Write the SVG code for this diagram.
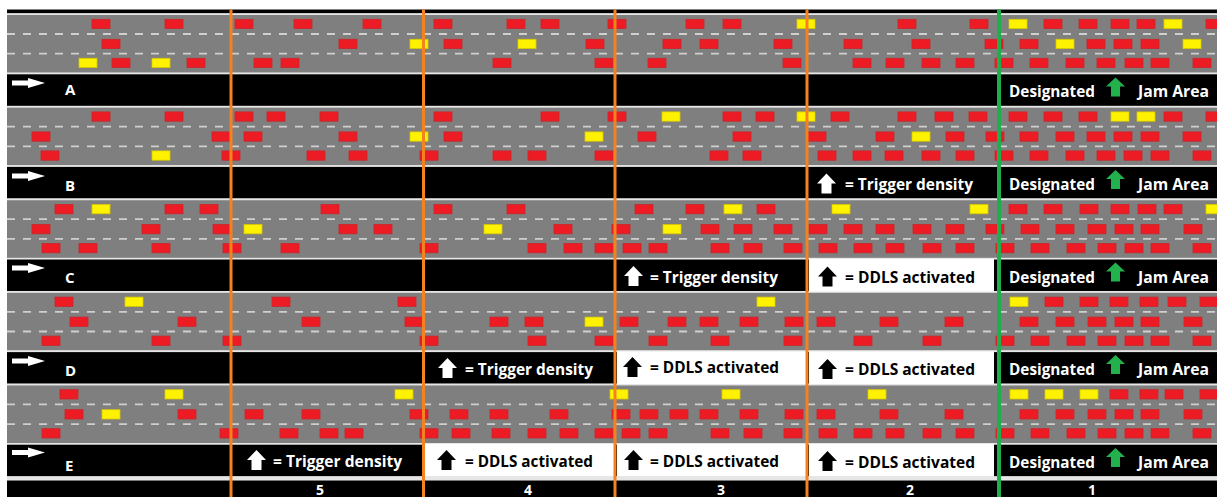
<svg xmlns="http://www.w3.org/2000/svg" xmlns:xlink="http://www.w3.org/1999/xlink" width="1217" height="497" viewBox="0 0 1217 497">
<style>
  .road{fill:#7f7f7f}
  .edge{fill:#e6e6e6}
  .band{fill:#000}
  .lane{stroke:#cfcfcf;stroke-width:1.8;stroke-dasharray:8 8;fill:none}
  .box{fill:#fff}
  .t{font-family:"Open Sans","Liberation Sans",sans-serif;font-weight:700;font-size:16.5px}
  .w{fill:#fff}
  .k{fill:#000}
  .lbl{font-family:"Open Sans","Liberation Sans",sans-serif;font-weight:700;font-size:15px;fill:#fff}
  .num{font-family:"Open Sans","Liberation Sans",sans-serif;font-weight:700;font-size:14px;fill:#fff;text-anchor:middle}
  .div{stroke:#f58220;stroke-width:3}
  .jam{stroke:#1fae4b;stroke-width:4}
</style>
<defs>
  <rect id="rc" width="18" height="9.3" fill="#ed1c24" stroke="#c9262c" stroke-width="0.8"/>
  <rect id="yc" width="18" height="9.3" fill="#fff200" stroke="#d6c800" stroke-width="0.8"/>
  <polygon id="up" points="9.5,0 19,10 14.5,10 14.5,20 4.5,20 4.5,10 0,10"/>
  <polygon id="upg" points="9.5,0 19,9 14,9 14,19 5,19 5,9 0,9" fill="#22b14c"/>
  <polygon id="right" points="0,2.5 16,2.5 16,0 33,5 16,10 16,7.5 0,7.5" fill="#fff"/>
  <g id="base">
    <rect class="edge" x="7" y="0" width="1210" height="1.8"/>
    <rect class="road" x="7" y="1.7" width="1210" height="57.7"/>
    <rect class="edge" x="7" y="59.4" width="1210" height="1.7"/>
    <rect class="band" x="7" y="61" width="1210" height="31.6"/>
    <line class="lane" x1="7" y1="20.7" x2="1217" y2="20.7"/>
    <line class="lane" x1="7" y1="40.4" x2="1217" y2="40.4"/>
  </g>
</defs>

<!-- top border -->
<rect x="7" y="9.5" width="1210" height="4" fill="#000"/>

<!-- scenario A -->
<g id="road-A" transform="translate(0,13.3)">
  <use href="#base"/>
  <g transform="translate(0,6)">
    <use href="#rc" x="92"/><use href="#rc" x="165"/><use href="#rc" x="235"/><use href="#rc" x="294"/><use href="#rc" x="363"/><use href="#rc" x="434"/><use href="#rc" x="507"/><use href="#rc" x="541"/><use href="#rc" x="608"/><use href="#rc" x="686"/><use href="#rc" x="723"/><use href="#yc" x="797"/><use href="#rc" x="898"/><use href="#rc" x="970"/><use href="#yc" x="1009"/><use href="#rc" x="1044"/><use href="#rc" x="1079"/><use href="#rc" x="1111"/><use href="#rc" x="1137"/><use href="#yc" x="1164"/><use href="#rc" x="1206"/>
  </g>
  <g transform="translate(0,26)">
    <use href="#rc" x="102"/><use href="#rc" x="339"/><use href="#yc" x="410"/><use href="#rc" x="444"/><use href="#yc" x="518"/><use href="#rc" x="586"/><use href="#rc" x="663"/><use href="#rc" x="700"/><use href="#rc" x="774"/><use href="#rc" x="844"/><use href="#rc" x="912"/><use href="#rc" x="985"/><use href="#rc" x="1020"/><use href="#yc" x="1056"/><use href="#rc" x="1087"/><use href="#rc" x="1114"/><use href="#rc" x="1141"/><use href="#yc" x="1183"/>
  </g>
  <g transform="translate(0,45)">
    <use href="#yc" x="79"/><use href="#rc" x="112"/><use href="#yc" x="152"/><use href="#rc" x="187"/><use href="#rc" x="254"/><use href="#rc" x="281"/><use href="#rc" x="493"/><use href="#rc" x="595"/><use href="#rc" x="648"/><use href="#rc" x="783"/><use href="#rc" x="853"/><use href="#rc" x="886"/><use href="#rc" x="922"/><use href="#rc" x="956"/><use href="#rc" x="995"/><use href="#rc" x="1030"/><use href="#rc" x="1066"/><use href="#rc" x="1097"/><use href="#rc" x="1125"/><use href="#rc" x="1151"/><use href="#rc" x="1193"/>
  </g>
</g>

<!-- scenario B -->
<g id="road-B" transform="translate(0,105.9)">
  <use href="#base"/>
  <g transform="translate(0,6)">
    <use href="#rc" x="92"/><use href="#rc" x="165"/><use href="#rc" x="235"/><use href="#rc" x="267"/><use href="#rc" x="320"/><use href="#rc" x="434"/><use href="#rc" x="541"/><use href="#rc" x="608"/><use href="#yc" x="662"/><use href="#rc" x="723"/><use href="#rc" x="756"/><use href="#yc" x="797"/><use href="#rc" x="831"/><use href="#rc" x="898"/><use href="#rc" x="935"/><use href="#rc" x="969"/><use href="#rc" x="1009"/><use href="#rc" x="1044"/><use href="#rc" x="1079"/><use href="#yc" x="1111"/><use href="#yc" x="1137"/><use href="#rc" x="1164"/><use href="#rc" x="1206"/>
  </g>
  <g transform="translate(0,26)">
    <use href="#rc" x="32"/><use href="#rc" x="212"/><use href="#rc" x="244"/><use href="#rc" x="339"/><use href="#yc" x="410"/><use href="#rc" x="444"/><use href="#yc" x="585"/><use href="#rc" x="638"/><use href="#rc" x="733"/><use href="#rc" x="808"/><use href="#rc" x="876"/><use href="#yc" x="912"/><use href="#rc" x="946"/><use href="#rc" x="986"/><use href="#rc" x="1020"/><use href="#rc" x="1056"/><use href="#rc" x="1087"/><use href="#rc" x="1114"/><use href="#rc" x="1141"/><use href="#rc" x="1183"/>
  </g>
  <g transform="translate(0,45)">
    <use href="#rc" x="41"/><use href="#yc" x="152"/><use href="#rc" x="222"/><use href="#rc" x="307"/><use href="#rc" x="349"/><use href="#rc" x="420"/><use href="#rc" x="493"/><use href="#rc" x="528"/><use href="#rc" x="595"/><use href="#rc" x="710"/><use href="#rc" x="743"/><use href="#rc" x="818"/><use href="#rc" x="853"/><use href="#rc" x="885"/><use href="#rc" x="922"/><use href="#rc" x="956"/><use href="#rc" x="995"/><use href="#rc" x="1030"/><use href="#rc" x="1066"/><use href="#rc" x="1097"/><use href="#rc" x="1124"/><use href="#rc" x="1151"/><use href="#rc" x="1193"/>
  </g>
</g>

<!-- scenario C -->
<g id="road-C" transform="translate(0,198.5)">
  <use href="#base"/>
  <g transform="translate(0,6)">
    <use href="#rc" x="55"/><use href="#yc" x="92"/><use href="#rc" x="165"/><use href="#rc" x="200"/><use href="#rc" x="321"/><use href="#rc" x="434"/><use href="#rc" x="507"/><use href="#rc" x="635"/><use href="#rc" x="686"/><use href="#yc" x="724"/><use href="#rc" x="757"/><use href="#yc" x="832"/><use href="#yc" x="970"/><use href="#rc" x="1009"/><use href="#rc" x="1044"/><use href="#rc" x="1080"/><use href="#rc" x="1111"/><use href="#rc" x="1138"/><use href="#rc" x="1164"/><use href="#yc" x="1206"/>
  </g>
  <g transform="translate(0,26)">
    <use href="#rc" x="32"/><use href="#rc" x="142"/><use href="#rc" x="213"/><use href="#yc" x="244"/><use href="#rc" x="339"/><use href="#rc" x="374"/><use href="#yc" x="484"/><use href="#rc" x="554"/><use href="#rc" x="612"/><use href="#yc" x="663"/><use href="#rc" x="701"/><use href="#rc" x="734"/><use href="#rc" x="774"/><use href="#rc" x="809"/><use href="#rc" x="844"/><use href="#rc" x="876"/><use href="#rc" x="913"/><use href="#rc" x="946"/><use href="#rc" x="986"/><use href="#rc" x="1021"/><use href="#rc" x="1056"/><use href="#rc" x="1088"/><use href="#rc" x="1115"/><use href="#rc" x="1141"/><use href="#rc" x="1184"/>
  </g>
  <g transform="translate(0,45)">
    <use href="#rc" x="42"/><use href="#rc" x="79"/><use href="#rc" x="152"/><use href="#rc" x="223"/><use href="#rc" x="281"/><use href="#rc" x="420"/><use href="#rc" x="528"/><use href="#rc" x="564"/><use href="#rc" x="595"/><use href="#rc" x="623"/><use href="#rc" x="649"/><use href="#rc" x="711"/><use href="#rc" x="744"/><use href="#rc" x="784"/><use href="#rc" x="819"/><use href="#rc" x="854"/><use href="#rc" x="886"/><use href="#rc" x="923"/><use href="#rc" x="956"/><use href="#rc" x="996"/><use href="#rc" x="1031"/><use href="#rc" x="1067"/><use href="#rc" x="1098"/><use href="#rc" x="1125"/><use href="#rc" x="1151"/><use href="#rc" x="1193"/>
  </g>
</g>

<!-- scenario D -->
<g id="road-D" transform="translate(0,291.1)">
  <use href="#base"/>
  <g transform="translate(0,6)">
    <use href="#rc" x="55"/><use href="#yc" x="125"/><use href="#rc" x="272"/><use href="#rc" x="398"/><use href="#yc" x="757"/><use href="#yc" x="1010"/><use href="#rc" x="1045"/><use href="#rc" x="1080"/><use href="#rc" x="1110"/><use href="#rc" x="1140"/><use href="#rc" x="1168"/><use href="#rc" x="1200"/>
  </g>
  <g transform="translate(0,26)">
    <use href="#rc" x="70"/><use href="#rc" x="178"/><use href="#rc" x="302"/><use href="#rc" x="405"/><use href="#rc" x="490"/><use href="#rc" x="525"/><use href="#yc" x="585"/><use href="#rc" x="620"/><use href="#rc" x="668"/><use href="#rc" x="700"/><use href="#rc" x="740"/><use href="#rc" x="785"/><use href="#rc" x="817"/><use href="#rc" x="880"/><use href="#rc" x="945"/><use href="#rc" x="1020"/><use href="#rc" x="1056"/><use href="#rc" x="1088"/><use href="#rc" x="1115"/><use href="#rc" x="1141"/><use href="#rc" x="1184"/>
  </g>
  <g transform="translate(0,45)">
    <use href="#rc" x="42"/><use href="#rc" x="152"/><use href="#rc" x="223"/><use href="#rc" x="420"/><use href="#rc" x="528"/><use href="#rc" x="595"/><use href="#rc" x="649"/><use href="#rc" x="711"/><use href="#rc" x="784"/><use href="#rc" x="854"/><use href="#rc" x="923"/><use href="#rc" x="996"/><use href="#rc" x="1031"/><use href="#rc" x="1067"/><use href="#rc" x="1098"/><use href="#rc" x="1125"/><use href="#rc" x="1151"/><use href="#rc" x="1193"/>
  </g>
</g>

<!-- scenario E -->
<g id="road-E" transform="translate(0,383.7)">
  <use href="#base"/>
  <g transform="translate(0,6)">
    <use href="#rc" x="60"/><use href="#yc" x="165"/><use href="#yc" x="395"/><use href="#yc" x="610"/><use href="#yc" x="722"/><use href="#yc" x="868"/><use href="#yc" x="1010"/><use href="#yc" x="1045"/><use href="#yc" x="1080"/><use href="#rc" x="1110"/><use href="#rc" x="1140"/><use href="#rc" x="1165"/><use href="#rc" x="1200"/>
  </g>
  <g transform="translate(0,26)">
    <use href="#rc" x="65"/><use href="#yc" x="102"/><use href="#rc" x="178"/><use href="#rc" x="245"/><use href="#rc" x="302"/><use href="#rc" x="410"/><use href="#rc" x="450"/><use href="#rc" x="490"/><use href="#rc" x="550"/><use href="#rc" x="612"/><use href="#rc" x="640"/><use href="#rc" x="670"/><use href="#rc" x="700"/><use href="#rc" x="740"/><use href="#rc" x="785"/><use href="#rc" x="817"/><use href="#rc" x="880"/><use href="#rc" x="945"/><use href="#rc" x="1020"/><use href="#rc" x="1056"/><use href="#rc" x="1088"/><use href="#rc" x="1115"/><use href="#rc" x="1141"/><use href="#rc" x="1184"/>
  </g>
  <g transform="translate(0,45)">
    <use href="#rc" x="42"/><use href="#rc" x="220"/><use href="#rc" x="280"/><use href="#rc" x="320"/><use href="#rc" x="345"/><use href="#rc" x="420"/><use href="#rc" x="452"/><use href="#rc" x="492"/><use href="#rc" x="528"/><use href="#rc" x="560"/><use href="#rc" x="595"/><use href="#rc" x="622"/><use href="#rc" x="649"/><use href="#rc" x="711"/><use href="#rc" x="744"/><use href="#rc" x="784"/><use href="#rc" x="819"/><use href="#rc" x="854"/><use href="#rc" x="886"/><use href="#rc" x="923"/><use href="#rc" x="956"/><use href="#rc" x="996"/><use href="#rc" x="1031"/><use href="#rc" x="1067"/><use href="#rc" x="1098"/><use href="#rc" x="1125"/><use href="#rc" x="1151"/><use href="#rc" x="1193"/>
  </g>
</g>

<!-- zone number strip -->
<rect x="7" y="476.5" width="1210" height="4" fill="#e6e6e6"/>
<rect x="7" y="480.5" width="1210" height="17" fill="#000"/>

<!-- label bands -->
<g id="band-A">
  <use href="#right" x="12" y="78"/>
  <text class="lbl" x="65" y="95">A</text>
  <text class="t w" x="1009" y="97.3" textLength="86" lengthAdjust="spacingAndGlyphs">Designated</text>
  <use href="#upg" x="1106" y="77.5"/>
  <text class="t w" x="1138" y="97.3" textLength="71" lengthAdjust="spacingAndGlyphs">Jam Area</text>
</g>
<g id="band-B">
  <use href="#right" x="12" y="171"/>
  <text class="lbl" x="65" y="191">B</text>
  <use href="#up" x="817" y="173.4" fill="#fff"/>
  <text class="t w" x="845" y="189.9" textLength="128" lengthAdjust="spacingAndGlyphs">= Trigger density</text>
  <text class="t w" x="1009" y="189.9" textLength="86" lengthAdjust="spacingAndGlyphs">Designated</text>
  <use href="#upg" x="1106" y="170"/>
  <text class="t w" x="1138" y="189.9" textLength="71" lengthAdjust="spacingAndGlyphs">Jam Area</text>
</g>
<g id="band-C">
  <rect class="box" x="809" y="259" width="185" height="32.5"/>
  <use href="#right" x="12" y="263"/>
  <text class="lbl" x="65" y="283">C</text>
  <use href="#up" x="624" y="266" fill="#fff"/>
  <text class="t w" x="650" y="282.5" textLength="128" lengthAdjust="spacingAndGlyphs">= Trigger density</text>
  <use href="#up" x="818" y="266.5" class="k"/>
  <text class="t k" x="845" y="282.5" textLength="130" lengthAdjust="spacingAndGlyphs">= DDLS activated</text>
  <text class="t w" x="1009" y="282.5" textLength="86" lengthAdjust="spacingAndGlyphs">Designated</text>
  <use href="#upg" x="1106" y="262.5"/>
  <text class="t w" x="1138" y="282.5" textLength="71" lengthAdjust="spacingAndGlyphs">Jam Area</text>
</g>
<g id="band-D">
  <rect class="box" x="617" y="351.5" width="189" height="32.5"/>
  <rect class="box" x="809" y="351.5" width="185" height="32.5"/>
  <use href="#right" x="12" y="356"/>
  <text class="lbl" x="65" y="376">D</text>
  <use href="#up" x="438" y="358" fill="#fff"/>
  <text class="t w" x="465" y="375" textLength="128" lengthAdjust="spacingAndGlyphs">= Trigger density</text>
  <use href="#up" x="623" y="357" class="k"/>
  <text class="t k" x="650" y="373" textLength="129" lengthAdjust="spacingAndGlyphs">= DDLS activated</text>
  <use href="#up" x="818" y="359" class="k"/>
  <text class="t k" x="845" y="375" textLength="130" lengthAdjust="spacingAndGlyphs">= DDLS activated</text>
  <text class="t w" x="1009" y="375" textLength="86" lengthAdjust="spacingAndGlyphs">Designated</text>
  <use href="#upg" x="1106" y="355"/>
  <text class="t w" x="1138" y="375" textLength="71" lengthAdjust="spacingAndGlyphs">Jam Area</text>
</g>
<g id="band-E">
  <rect class="box" x="425" y="444" width="189" height="32.5"/>
  <rect class="box" x="617" y="444" width="189" height="32.5"/>
  <rect class="box" x="809" y="444" width="185" height="32.5"/>
  <use href="#right" x="12" y="447.5"/>
  <text class="lbl" x="65" y="471">E</text>
  <use href="#up" x="247" y="450" fill="#fff"/>
  <text class="t w" x="273" y="467" textLength="129" lengthAdjust="spacingAndGlyphs">= Trigger density</text>
  <use href="#up" x="437" y="450" class="k"/>
  <text class="t k" x="465" y="467" textLength="128" lengthAdjust="spacingAndGlyphs">= DDLS activated</text>
  <use href="#up" x="624" y="450" class="k"/>
  <text class="t k" x="650" y="467" textLength="129" lengthAdjust="spacingAndGlyphs">= DDLS activated</text>
  <use href="#up" x="818" y="451" class="k"/>
  <text class="t k" x="845" y="468" textLength="130" lengthAdjust="spacingAndGlyphs">= DDLS activated</text>
  <text class="t w" x="1009" y="468" textLength="86" lengthAdjust="spacingAndGlyphs">Designated</text>
  <use href="#upg" x="1106" y="448"/>
  <text class="t w" x="1138" y="468" textLength="71" lengthAdjust="spacingAndGlyphs">Jam Area</text>
</g>

<!-- zone numbers -->
<g id="zone-numbers">
  <text class="num" x="320" y="495">5</text>
  <text class="num" x="528" y="495">4</text>
  <text class="num" x="721" y="495">3</text>
  <text class="num" x="910" y="495">2</text>
  <text class="num" x="1092" y="495">1</text>
</g>

<!-- zone boundaries -->
<g id="connectors">
  <line class="div" x1="231" y1="9.5" x2="231" y2="497"/>
  <line class="div" x1="423.5" y1="9.5" x2="423.5" y2="497"/>
  <line class="div" x1="615" y1="9.5" x2="615" y2="497"/>
  <line class="div" x1="807" y1="9.5" x2="807" y2="497"/>
  <line class="jam" x1="999" y1="9.5" x2="999" y2="497"/>
</g>
</svg>
